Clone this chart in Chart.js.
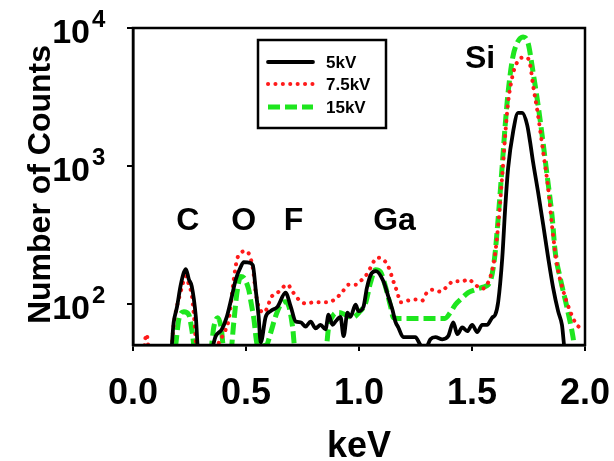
<!DOCTYPE html>
<html>
<head>
<meta charset="utf-8">
<script src="https://cdn.jsdelivr.net/npm/chart.js@4"></script>
<style>
  html, body { margin: 0; padding: 0; background: #fff; }
</style>
</head>
<body>
<canvas id="chart" width="614" height="461"></canvas>
<script>
// spectra (keV, counts); 40 = below the axis
const kev5 = [0.00, 0.165, 0.18, 0.195, 0.21, 0.225, 0.234, 0.247, 0.26, 0.278, 0.29, 0.345, 0.366, 0.393, 0.415, 0.437, 0.455, 0.477, 0.49, 0.512, 0.53, 0.543, 0.556, 0.565, 0.587, 0.609, 0.64, 0.675, 0.698, 0.72, 0.742, 0.764, 0.786, 0.808, 0.83, 0.852, 0.865, 0.883, 0.896, 0.918, 0.932, 0.949, 0.962, 0.985, 0.998, 1.02, 1.035, 1.055, 1.075, 1.108, 1.13, 1.148, 1.161, 1.174, 1.196, 1.219, 1.249, 1.272, 1.294, 1.316, 1.338, 1.369, 1.395, 1.417, 1.435, 1.457, 1.479, 1.501, 1.523, 1.545, 1.567, 1.589, 1.603, 1.616, 1.634, 1.647, 1.66, 1.682, 1.704, 1.722, 1.744, 1.757, 1.77, 1.792, 1.815, 1.837, 1.859, 1.881, 1.898, 1.912, 2.0];
const counts5 = [40, 40, 73, 95, 133, 168, 178, 150, 133, 80, 42, 45, 58, 65, 80, 112, 150, 185, 200, 198, 190, 126, 80, 52, 80, 88, 95, 120, 95, 74, 73, 68, 74, 66, 70, 65, 83, 70, 74, 80, 58, 86, 80, 98, 88, 95, 130, 165, 172, 145, 112, 90, 74, 67, 57, 57, 57, 50, 47, 55, 57, 55, 58, 73, 60, 67, 63, 70, 62, 70, 70, 79, 83, 103, 215, 496, 967, 1770, 2420, 2420, 1980, 1490, 1070, 650, 373, 215, 130, 88, 70, 45, 40];

const kev75 = [0.00, 0.04, 0.06, 0.075, 0.165, 0.18, 0.21, 0.235, 0.248, 0.26, 0.27, 0.285, 0.36, 0.38, 0.40, 0.424, 0.446, 0.46, 0.477, 0.50, 0.53, 0.543, 0.556, 0.58, 0.596, 0.61, 0.64, 0.684, 0.706, 0.733, 0.764, 0.80, 0.83, 0.86, 0.896, 0.927, 0.954, 0.985, 1.015, 1.04, 1.055, 1.08, 1.108, 1.13, 1.152, 1.17, 1.183, 1.214, 1.25, 1.28, 1.30, 1.33, 1.36, 1.39, 1.417, 1.457, 1.483, 1.514, 1.545, 1.58, 1.60, 1.616, 1.634, 1.647, 1.66, 1.68, 1.70, 1.72, 1.744, 1.757, 1.77, 1.79, 1.815, 1.837, 1.855, 1.876, 1.90, 1.934, 1.964, 2.0];
const counts75 = [40, 40, 60, 40, 40, 70, 120, 158, 135, 116, 80, 42, 42, 52, 60, 77, 150, 208, 234, 240, 182, 120, 95, 86, 95, 110, 120, 137, 122, 107, 100, 102, 102, 102, 108, 122, 137, 137, 150, 168, 188, 215, 208, 185, 145, 120, 102, 105, 107, 105, 120, 126, 122, 133, 145, 145, 150, 137, 128, 154, 215, 373, 860, 1680, 2900, 4550, 5650, 6080, 6080, 5430, 3860, 2460, 1260, 690, 355, 192, 130, 88, 70, 65];

const kev15 = [0.00, 0.17, 0.185, 0.203, 0.225, 0.247, 0.26, 0.278, 0.34, 0.358, 0.375, 0.39, 0.405, 0.43, 0.446, 0.46, 0.477, 0.49, 0.512, 0.52, 0.535, 0.55, 0.56, 0.59, 0.61, 0.63, 0.653, 0.675, 0.69, 0.706, 0.72, 0.85, 0.866, 0.888, 0.91, 0.94, 0.97, 1.0, 1.03, 1.05, 1.073, 1.095, 1.117, 1.14, 1.152, 1.175, 1.25, 1.325, 1.38, 1.404, 1.426, 1.457, 1.483, 1.514, 1.545, 1.58, 1.60, 1.616, 1.634, 1.647, 1.66, 1.68, 1.70, 1.726, 1.748, 1.77, 1.788, 1.81, 1.832, 1.855, 1.868, 1.89, 1.92, 1.947, 1.96, 2.0];
const counts15 = [40, 40, 45, 77, 87, 83, 65, 42, 42, 68, 79, 67, 42, 42, 73, 120, 157, 154, 126, 107, 77, 50, 49, 50, 62, 80, 98, 103, 95, 68, 42, 42, 68, 83, 86, 83, 79, 86, 102, 140, 176, 170, 133, 95, 79, 78, 78, 78, 78, 86, 98, 110, 120, 126, 131, 144, 215, 420, 1020, 1980, 3440, 6080, 7800, 8600, 7800, 4800, 3100, 1680, 860, 420, 238, 154, 94, 57, 40, 40];

const xTicks = [0, 0.5, 1.0, 1.5, 2.0];
const yTicks = [100, 1000, 10000];

// element labels: name, keV, counts (text centre)
const peakNames = ['C', 'O', 'F', 'Ga', 'Si'];
const peakKev = [0.243, 0.49, 0.71, 1.157, 1.536];
const peakCounts = [396, 396, 396, 396, 5900];

const FONT = '"Liberation Sans", Arial, sans-serif';

function pts(xs, ys) {
    return xs.map((x, i) => ({ x: x, y: ys[i] }));
}

const extras = {
    id: 'extras',
    afterDraw(chart) {
        const ctx = chart.ctx;
        const area = chart.chartArea;
        const xs = chart.scales.x;
        const ys = chart.scales.y;

        ctx.save();
        ctx.strokeStyle = '#000';
        ctx.lineWidth = 2.5;
        ctx.strokeRect(area.left, area.top, area.right - area.left, area.bottom - area.top);

        // y tick labels as 10^n
        ctx.fillStyle = '#000';
        yTicks.forEach(v => {
            const y = ys.getPixelForValue(v);
            ctx.font = 'bold 34px ' + FONT;
            ctx.textAlign = 'right';
            ctx.textBaseline = 'alphabetic';
            ctx.fillText('10', area.left - 43, y + 15);
            ctx.font = 'bold 24px ' + FONT;
            ctx.textAlign = 'left';
            ctx.fillText(String(Math.round(Math.log10(v))), area.left - 41, y - 1);
        });

        // y title
        ctx.save();
        ctx.translate(50, (area.top + area.bottom) / 2 - 2);
        ctx.rotate(-Math.PI / 2);
        ctx.font = 'bold 32px ' + FONT;
        ctx.textAlign = 'center';
        ctx.textBaseline = 'alphabetic';
        ctx.fillText('Number of Counts', 0, 0);
        ctx.restore();

        // peak labels
        ctx.font = 'bold 32px ' + FONT;
        ctx.textAlign = 'center';
        ctx.textBaseline = 'middle';
        peakNames.forEach((name, i) => {
            ctx.fillText(name, xs.getPixelForValue(peakKev[i]), ys.getPixelForValue(peakCounts[i]));
        });

        // legend box
        const bx = 258, by = 40, bw = 128, bh = 88;
        ctx.fillStyle = '#fff';
        ctx.fillRect(bx, by, bw, bh);
        ctx.lineWidth = 2.5;
        ctx.strokeStyle = '#000';
        ctx.strokeRect(bx, by, bw, bh);
        const rows = [62, 84, 107];
        chart.data.datasets.forEach((ds, i) => {
            ctx.save();
            ctx.strokeStyle = ds.borderColor;
            ctx.lineWidth = ds.borderWidth;
            ctx.lineCap = ds.borderCapStyle || 'butt';
            ctx.setLineDash(ds.borderDash || []);
            ctx.beginPath();
            ctx.moveTo(268, rows[i]);
            ctx.lineTo(313, rows[i]);
            ctx.stroke();
            ctx.restore();
            ctx.fillStyle = '#000';
            ctx.font = 'bold 17px ' + FONT;
            ctx.textAlign = 'left';
            ctx.textBaseline = 'middle';
            ctx.fillText(ds.label, 326, rows[i] + 1);
        });
        ctx.restore();
    }
};

const ctx = document.getElementById('chart').getContext('2d');
new Chart(ctx, {
    type: 'line',
    data: {
        datasets: [
            {
                label: '5kV',
                data: pts(kev5, counts5),
                borderColor: '#000000',
                borderWidth: 3.8,
                borderCapStyle: 'round'
            },
            {
                label: '7.5kV',
                data: pts(kev75, counts75),
                borderColor: '#ff1a1a',
                borderWidth: 4,
                borderCapStyle: 'round',
                borderDash: [0.1, 7.3]
            },
            {
                label: '15kV',
                data: pts(kev15, counts15),
                borderColor: '#1ee61e',
                borderWidth: 5,
                borderDash: [12, 5]
            }
        ]
    },
    options: {
        responsive: false,
        animation: false,
        devicePixelRatio: 1,
        layout: { padding: { left: 127, right: 29, top: 28, bottom: -4 } },
        elements: {
            point: { radius: 0 },
            line: { cubicInterpolationMode: 'monotone', fill: false }
        },
        datasets: { line: { clip: 0 } },
        plugins: {
            legend: { display: false },
            tooltip: { enabled: false }
        },
        scales: {
            x: {
                type: 'linear',
                min: 0,
                max: 2,
                afterBuildTicks: s => { s.ticks = xTicks.map(v => ({ value: v })); },
                afterFit: s => { s.height = 120; s.paddingLeft = 0; s.paddingRight = 0; },
                ticks: {
                    color: '#000',
                    font: { family: FONT, size: 36, weight: 'bold', lineHeight: 1 },
                    padding: 25,
                    maxRotation: 0,
                    callback: v => v.toFixed(1)
                },
                grid: { display: true, drawOnChartArea: false, drawTicks: true, tickLength: 6, color: '#000', lineWidth: 2 },
                border: { display: true, color: '#000', width: 2.5 },
                title: {
                    display: true,
                    text: 'keV',
                    color: '#000',
                    font: { family: FONT, size: 36, weight: 'bold', lineHeight: 1 },
                    padding: { top: 0, bottom: 0 }
                }
            },
            y: {
                type: 'logarithmic',
                min: 50,
                max: 10000,
                afterBuildTicks: s => { s.ticks = yTicks.map(v => ({ value: v })); },
                afterFit: s => { s.width = 6; s.paddingTop = 0; s.paddingBottom = 0; },
                ticks: { display: false },
                grid: { display: true, drawOnChartArea: false, drawTicks: true, tickLength: 6, color: '#000', lineWidth: 2 },
                border: { display: true, color: '#000', width: 2.5 }
            }
        }
    },
    plugins: [extras]
});
</script>
</body>
</html>
